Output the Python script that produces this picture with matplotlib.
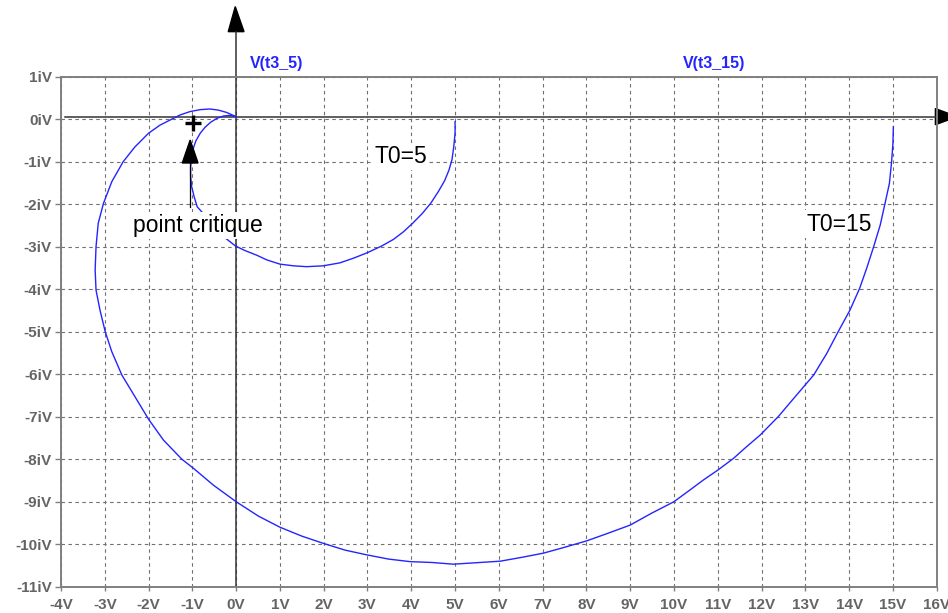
import matplotlib
matplotlib.use("Agg")
import matplotlib.pyplot as plt

plt.rcParams["font.family"] = ["Liberation Sans", "DejaVu Sans"]
plt.rcParams["lines.scale_dashes"] = False

t5_re = [5.00, 5.00, 4.97, 4.93, 4.86, 4.76, 4.62, 4.45, 4.25, 4.03, 3.82, 3.59,
         3.33, 3.00, 2.68, 2.37, 1.99, 1.61, 1.31, 1.00, 0.70, 0.47, 0.20, -0.02,
         -0.29, -0.55, -0.75, -0.89, -0.96, -1.015, -1.04, -1.04, -1.015, -0.98,
         -0.92, -0.82, -0.71, -0.58, -0.44, -0.29, -0.14, 0.00]
t5_im = [-0.06, -0.33, -0.65, -0.95, -1.20, -1.45, -1.70, -1.97, -2.22, -2.45,
         -2.65, -2.83, -2.98, -3.14, -3.27, -3.38, -3.45, -3.47, -3.45, -3.41,
         -3.31, -3.20, -3.09, -2.98, -2.76, -2.45, -2.22, -2.06, -1.82, -1.59,
         -1.35, -1.12, -0.88, -0.69, -0.51, -0.33, -0.19, -0.07, 0.02, 0.075,
         0.09, 0.06]

t15_re = [15.01, 15.00, 14.97, 14.92, 14.82, 14.71, 14.56, 14.40, 14.24, 14.02,
          13.75, 13.49, 13.19, 12.80, 12.38, 11.97, 11.62, 11.36, 11.01, 10.67,
          10.37, 10.00, 9.49, 9.00, 8.50, 8.01, 7.51, 7.02, 6.52, 6.03, 5.57,
          4.96, 4.47, 3.97, 3.48, 2.98, 2.49, 1.99, 1.50, 1.00, 0.51, 0.00,
          -0.52, -0.98, -1.24, -1.66, -2.00, -2.31, -2.61, -2.84, -2.99, -3.11,
          -3.20, -3.22, -3.20, -3.15, -3.03, -2.84, -2.58, -2.31, -2.00, -1.74,
          -1.51, -1.28, -1.05, -0.82, -0.60, -0.41, -0.22, 0.00]
t15_im = [-0.18, -0.57, -1.00, -1.51, -1.98, -2.49, -3.00, -3.51, -3.98, -4.49,
          -5.00, -5.51, -6.02, -6.49, -7.00, -7.43, -7.74, -7.98, -8.25, -8.49,
          -8.72, -9.00, -9.27, -9.55, -9.74, -9.92, -10.07, -10.21, -10.31,
          -10.40, -10.43, -10.47, -10.43, -10.41, -10.35, -10.25, -10.14, -9.98,
          -9.81, -9.60, -9.34, -9.00, -8.61, -8.21, -8.00, -7.55, -7.06, -6.53,
          -6.02, -5.47, -5.00, -4.49, -4.02, -3.55, -3.00, -2.45, -1.98, -1.47,
          -1.00, -0.65, -0.33, -0.14, -0.02, 0.10, 0.18, 0.225, 0.24, 0.215,
          0.16, 0.06]

xticks = list(range(-4, 17))
yticks = list(range(-11, 2))
xlabels = [str(v) + "V" for v in xticks]
ylabels = [str(v) + "iV" for v in yticks]

trace_names = ["V(t3_5)", "V(t3_15)"]
curve_labels = ["T0=5", "T0=15"]

blue = "#2424ff"
gray = "#646464"

fig = plt.figure(figsize=(9.48, 6.13), dpi=100)
ax = fig.add_axes([61 / 948, 26.3 / 613, 875.7 / 948, 510 / 613])

ax.set_xlim(-4, 16)
ax.set_ylim(-11, 1)
ax.set_xticks(xticks)
ax.set_xticklabels(xlabels)
ax.set_yticks(yticks)
ax.set_yticklabels(ylabels)
ax.tick_params(axis="x", length=3, width=1, color="#808080", pad=5,
               labelsize=11, labelcolor=gray)
ax.tick_params(axis="y", length=4.5, width=1, color="#808080", pad=2,
               labelsize=11, labelcolor=gray)
for lab in ax.get_xticklabels() + ax.get_yticklabels():
    lab.set_fontweight("bold")
for s in ax.spines.values():
    s.set_color("#808080")
    s.set_linewidth(1.4)

ax.grid(True, color="#707070", linewidth=0.8, linestyle=(0, (2.5, 2.5)))
ax.set_axisbelow(True)

ax.plot(t5_re, t5_im, color=blue, linewidth=1.0, zorder=3)
ax.plot(t15_re, t15_im, color=blue, linewidth=1.0, zorder=3)

# drawn axes with arrows
ax.plot([0, 0], [-11, 2.06], color="#333333", linewidth=1.1, clip_on=False, zorder=2)
ax.fill([-0.18, 0.18, -0.02], [2.06, 2.06, 2.65], color="black", clip_on=False)
ax.plot([-3.91, 15.97], [0.06, 0.06], color="#333333", linewidth=1.1, clip_on=False, zorder=2)
ax.fill([15.97, 15.97, 16.47], [0.25, -0.13, 0.06], color="black", clip_on=False)

# critical point and its arrow
ax.plot([-0.98], [-0.1], marker="+", markersize=11, markeredgewidth=2.4,
        color="black", zorder=5)
ax.plot([-1.05, -1.05], [-2.07, -1.03], color="black", linewidth=0.9, zorder=4)
ax.fill([-1.23, -0.87, -1.05], [-1.03, -1.03, -0.49], color="black", zorder=4)

box = dict(facecolor="white", edgecolor="none", pad=1.5)
ax.text(-2.355, -2.65, "point critique", fontsize=16.5, va="baseline",
        bbox=box, zorder=6)
ax.text(3.15, -1.04, curve_labels[0], fontsize=16.5, va="baseline",
        bbox=box, zorder=6)
ax.text(13.02, -2.62, curve_labels[1], fontsize=16.5, va="baseline",
        bbox=box, zorder=6)

ax.text(0.32, 1.32, trace_names[0], color=blue, fontsize=11.5,
        fontweight="bold", va="center")
ax.text(10.2, 1.32, trace_names[1], color=blue, fontsize=11.5,
        fontweight="bold", va="center")

fig.savefig("out.png", dpi=100)
